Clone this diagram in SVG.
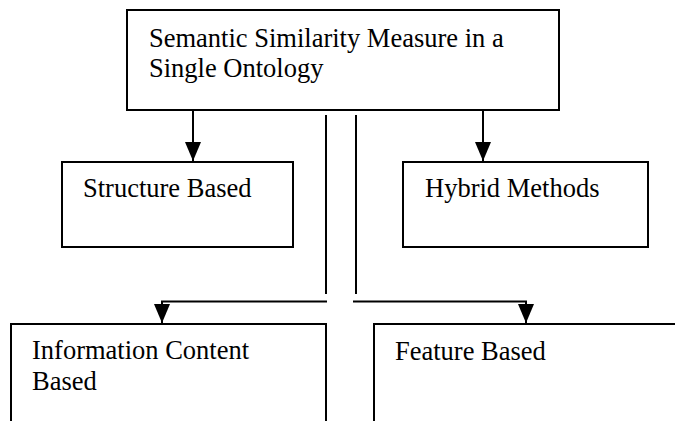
<svg xmlns="http://www.w3.org/2000/svg" width="675" height="421" viewBox="0 0 675 421">
  <style>
    .box { fill: #ffffff; stroke: #000000; stroke-width: 2; }
    .conn { fill: none; stroke: #000000; stroke-width: 2; }
    .lbl { font-family: "Liberation Serif", "Times New Roman", serif; font-size: 26.5px; fill: #000000; }
  </style>
  <defs>
    <marker id="arrow" markerUnits="userSpaceOnUse" markerWidth="20" markerHeight="20" viewBox="0 0 20 16" refX="19" refY="8" orient="auto">
      <path d="M0,0 L19,8 L0,16 z" fill="#000000"/>
    </marker>
  </defs>
  <rect width="675" height="421" fill="#ffffff"/>

  <g id="connectors">
    <line class="conn" x1="193" y1="110" x2="193" y2="161" marker-end="url(#arrow)"/>
    <line class="conn" x1="483" y1="110" x2="483" y2="161" marker-end="url(#arrow)"/>
    <line class="conn" x1="326" y1="115" x2="326" y2="294"/>
    <line class="conn" x1="356" y1="115" x2="356" y2="294"/>
    <path class="conn" d="M327,301.5 L162,301.5 L162,323" marker-end="url(#arrow)"/>
    <path class="conn" d="M353,301.5 L526,301.5 L526,323" marker-end="url(#arrow)"/>
  </g>

  <g id="root">
    <rect class="box" x="127" y="10" width="432" height="100"/>
    <text class="lbl" x="149" y="47">Semantic Similarity Measure in a</text>
    <text class="lbl" x="149" y="77">Single Ontology</text>
  </g>

  <g id="structure">
    <rect class="box" x="62" y="162" width="231" height="85"/>
    <text class="lbl" x="83" y="197">Structure Based</text>
  </g>

  <g id="hybrid">
    <rect class="box" x="403" y="162" width="245" height="85"/>
    <text class="lbl" x="425" y="197">Hybrid Methods</text>
  </g>

  <g id="information">
    <rect class="box" x="11" y="324" width="315" height="110"/>
    <text class="lbl" x="32" y="359">Information Content</text>
    <text class="lbl" x="32" y="390">Based</text>
  </g>

  <g id="feature">
    <rect class="box" x="374" y="324" width="310" height="110"/>
    <text class="lbl" x="395" y="360">Feature Based</text>
  </g>
</svg>
